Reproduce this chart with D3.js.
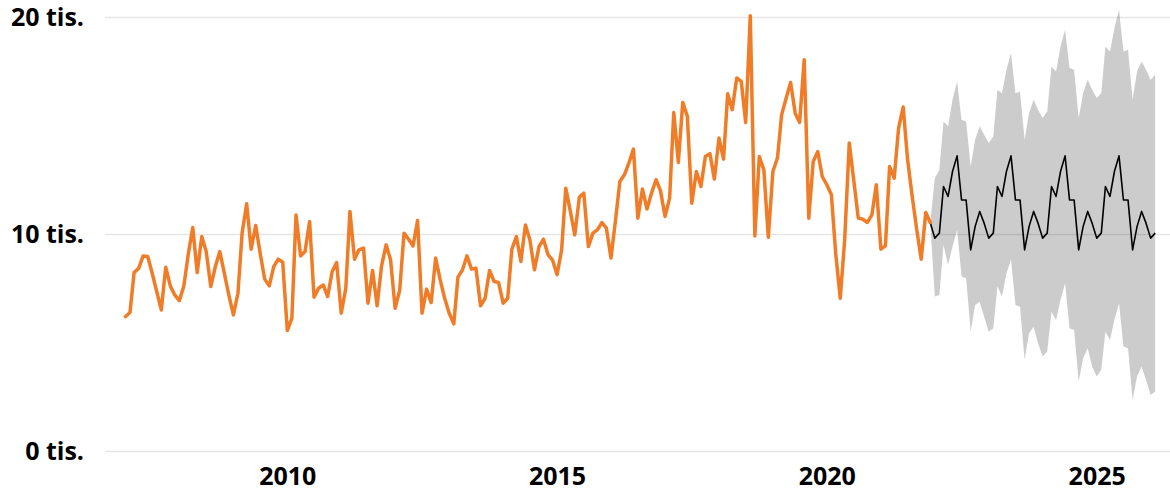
<!DOCTYPE html>
<html>
<head>
<meta charset="utf-8">
<script src="https://cdn.jsdelivr.net/npm/d3@7"></script>
<style>
  html, body { margin: 0; padding: 0; background: #fff; }
  svg { display: block; }
  .axis text { font-family: "Open Sans", "Noto Sans", sans-serif; font-weight: 700; font-size: 25px; fill: #000; }
</style>
</head>
<body>
<div id="chart"></div>
<script>
// monthly values in thousands, Jan 2007 .. Dec 2021
const actual = [
  6.19, 6.38, 8.22, 8.42, 8.99, 8.96, 8.20, 7.35, 6.50, 8.47, 7.61, 7.19,
  6.93, 7.61, 9.04, 10.30, 8.22, 9.88, 9.19, 7.58, 8.50, 9.19, 8.19, 7.19,
  6.27, 7.27, 10.04, 11.39, 9.30, 10.39, 9.12, 7.92, 7.61, 8.50, 8.84, 8.70,
  5.55, 6.12, 10.88, 8.99, 9.19, 10.57, 7.09, 7.50, 7.65, 7.12, 8.27, 8.68,
  6.35, 7.50, 11.04, 8.84, 9.27, 9.35, 6.81, 8.32, 6.69, 8.53, 9.50, 8.81,
  6.58, 7.42, 10.04, 9.76, 9.45, 10.62, 6.35, 7.46, 6.84, 8.89, 7.89, 7.04,
  6.35, 5.86, 8.01, 8.35, 8.99, 8.38, 8.42, 6.69, 7.04, 8.32, 7.81, 7.77,
  6.81, 7.04, 9.30, 9.88, 8.73, 10.42, 9.73, 8.35, 9.42, 9.76, 9.04, 8.81,
  8.12, 9.27, 12.11, 11.04, 9.96, 11.70, 11.88, 9.42, 10.04, 10.19, 10.53, 10.27,
  8.89, 10.65, 12.42, 12.73, 13.27, 13.91, 10.73, 12.07, 11.15, 11.88, 12.50, 12.00,
  10.81, 11.65, 15.60, 13.30, 16.06, 15.42, 11.42, 12.88, 12.19, 13.57, 13.70, 12.53,
  14.42, 13.45, 16.46, 15.73, 17.19, 17.03, 15.14, 20.06, 9.91, 13.57, 12.96, 9.85,
  12.88, 13.50, 15.49, 16.26, 16.98, 15.57, 15.14, 18.03, 10.73, 13.34, 13.80, 12.65,
  12.27, 11.81, 9.12, 7.04, 9.73, 14.19, 12.50, 10.73, 10.68, 10.53, 10.88, 12.27,
  9.30, 9.45, 13.11, 12.57, 14.88, 15.85, 13.42, 11.73, 10.19, 8.84, 10.99, 10.53
];

// forecast, Jan 2022 .. Feb 2026
const forecast = [
  9.81, 10.04, 12.19, 11.73, 12.88, 13.60, 11.57, 11.57, 9.27, 10.34, 11.04, 10.50,
  9.81, 10.04, 12.19, 11.73, 12.88, 13.60, 11.57, 11.57, 9.27, 10.34, 11.04, 10.50,
  9.81, 10.04, 12.19, 11.73, 12.88, 13.60, 11.57, 11.57, 9.27, 10.34, 11.04, 10.50,
  9.81, 10.04, 12.19, 11.73, 12.88, 13.60, 11.57, 11.57, 9.27, 10.34, 11.04, 10.50,
  9.81, 10.04
];
const upper = [
  12.57, 12.96, 15.19, 14.96, 16.19, 17.03, 15.26, 15.19, 13.11, 14.34, 14.96, 14.57,
  14.19, 14.49, 16.65, 16.49, 17.57, 18.34, 16.49, 16.57, 14.34, 15.57, 16.19, 15.73,
  15.34, 15.65, 17.72, 17.49, 18.64, 19.41, 17.65, 17.57, 15.34, 16.49, 17.11, 16.65,
  16.27, 16.49, 18.64, 18.41, 19.49, 20.34, 18.41, 18.49, 16.19, 17.49, 17.95, 17.57,
  17.11, 17.34
];
const lower = [
  7.12, 7.19, 9.50, 8.58, 9.42, 10.19, 8.04, 7.96, 5.50, 6.73, 6.88, 6.19,
  5.50, 5.66, 7.58, 7.12, 8.19, 8.81, 6.73, 6.65, 4.20, 5.43, 5.73, 4.97,
  4.35, 4.58, 6.42, 6.04, 6.96, 7.73, 5.66, 5.58, 3.20, 4.27, 4.74, 3.89,
  3.43, 3.74, 5.50, 5.12, 6.04, 6.81, 4.81, 4.74, 2.35, 3.43, 3.89, 3.27,
  2.58, 2.74
];

const yTicks = [0, 10000, 20000];
const xTicks = [2010, 2015, 2020, 2025];

const width = 1170, height = 493;
const margin = { top: 17, right: 0, bottom: 42, left: 105 };

const monthDate = (i) => new Date(2007, i, 1);

const series = actual.map((v, i) => ({ date: monthDate(i), value: v * 1000 }));
const last = series[series.length - 1];
const fc = [{ date: last.date, value: last.value, lo: last.value, hi: last.value }]
  .concat(forecast.map((v, i) => ({
    date: monthDate(actual.length + i),
    value: v * 1000,
    lo: lower[i] * 1000,
    hi: upper[i] * 1000
  })));

const svg = d3.select('#chart').append('svg')
  .attr('width', width)
  .attr('height', height);

const x = d3.scaleTime()
  .domain([new Date(2010, 0, 1), new Date(2025, 0, 1)])
  .range([287.3, 1096.7]);
const y = d3.scaleLinear()
  .domain([0, 20000])
  .range([height - margin.bottom, margin.top]);

// y axis + gridlines
const yAxis = svg.append('g')
  .attr('class', 'axis axis-y')
  .attr('transform', `translate(${margin.left},0)`)
  .call(d3.axisLeft(y)
    .tickValues(yTicks)
    .tickSize(-(width - margin.left))
    .tickPadding(21)
    .tickFormat(d => `${d / 1000} tis.`));
yAxis.select('.domain').remove();
yAxis.selectAll('line').attr('stroke', '#e6e6e6').attr('stroke-width', 1.5);

// x axis
const xAxis = svg.append('g')
  .attr('class', 'axis axis-x')
  .attr('transform', `translate(0,${height - margin.bottom})`)
  .call(d3.axisBottom(x)
    .tickValues(xTicks.map(t => new Date(t, 0, 1)))
    .tickSize(0)
    .tickPadding(16)
    .tickFormat(d3.timeFormat('%Y')));
xAxis.select('.domain').remove();

// confidence band
svg.append('path')
  .datum(fc)
  .attr('fill', '#000')
  .attr('fill-opacity', 0.2)
  .attr('d', d3.area()
    .x(d => x(d.date))
    .y0(d => y(d.lo))
    .y1(d => y(d.hi)));

// forecast line
svg.append('path')
  .datum(fc)
  .attr('fill', 'none')
  .attr('stroke', '#000')
  .attr('stroke-width', 1.6)
  .attr('stroke-linejoin', 'round')
  .attr('d', d3.line().x(d => x(d.date)).y(d => y(d.value)));

// actual line
svg.append('path')
  .datum(series)
  .attr('fill', 'none')
  .attr('stroke', '#f17c27')
  .attr('stroke-width', 3.5)
  .attr('stroke-linejoin', 'round')
  .attr('stroke-linecap', 'round')
  .attr('d', d3.line().x(d => x(d.date)).y(d => y(d.value)));
</script>
</body>
</html>
